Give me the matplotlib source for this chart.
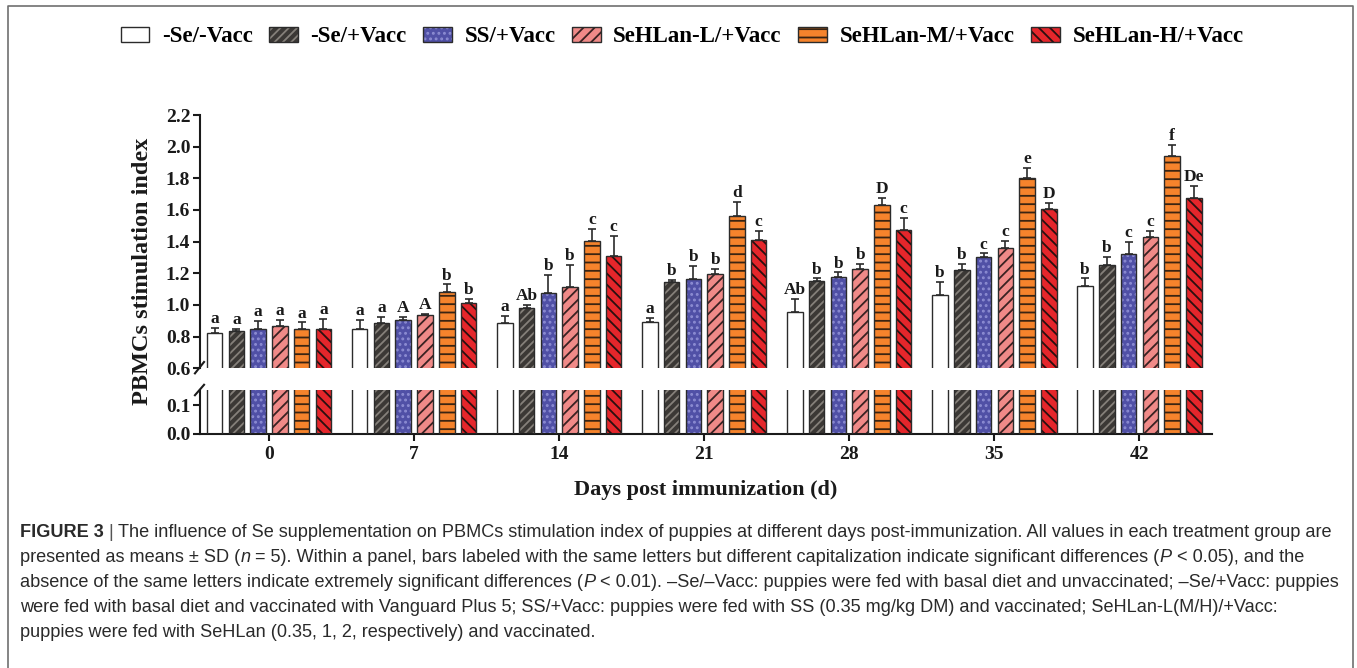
import matplotlib
matplotlib.use('Agg')
import matplotlib.pyplot as plt
import matplotlib.transforms as mtransforms
from matplotlib.patches import Patch
from matplotlib.lines import Line2D
from matplotlib.legend_handler import HandlerTuple
import numpy as np

# ---------------- data ----------------
days = ['0', '7', '14', '21', '28', '35', '42']
groups = ['-Se/-Vacc', '-Se/+Vacc', 'SS/+Vacc', 'SeHLan-L/+Vacc', 'SeHLan-M/+Vacc', 'SeHLan-H/+Vacc']

mean_neg_neg = [0.825, 0.846, 0.884, 0.893, 0.958, 1.063, 1.122]
sd_neg_neg = [0.028, 0.059, 0.046, 0.023, 0.078, 0.080, 0.046]
mean_neg_pos = [0.838, 0.884, 0.979, 1.147, 1.153, 1.221, 1.253]
sd_neg_pos = [0.012, 0.042, 0.020, 0.010, 0.015, 0.036, 0.053]
mean_ss = [0.848, 0.905, 1.074, 1.162, 1.179, 1.305, 1.324]
sd_ss = [0.051, 0.021, 0.116, 0.084, 0.027, 0.021, 0.072]
mean_low = [0.869, 0.935, 1.112, 1.198, 1.227, 1.362, 1.432]
sd_low = [0.036, 0.006, 0.140, 0.030, 0.032, 0.044, 0.036]
mean_mid = [0.846, 1.080, 1.404, 1.564, 1.632, 1.800, 1.943]
sd_mid = [0.044, 0.050, 0.074, 0.086, 0.042, 0.065, 0.067]
mean_high = [0.846, 1.010, 1.310, 1.410, 1.472, 1.606, 1.678]
sd_high = [0.065, 0.030, 0.126, 0.059, 0.076, 0.036, 0.072]

letters_neg_neg = ['a', 'a', 'a', 'a', 'Ab', 'b', 'b']
letters_neg_pos = ['a', 'a', 'Ab', 'b', 'b', 'b', 'b']
letters_ss = ['a', 'A', 'b', 'b', 'b', 'c', 'c']
letters_low = ['a', 'A', 'b', 'b', 'b', 'c', 'c']
letters_mid = ['a', 'b', 'c', 'd', 'D', 'e', 'f']
letters_high = ['a', 'b', 'c', 'c', 'c', 'D', 'De']

y_ticks_upper = [0.6, 0.8, 1.0, 1.2, 1.4, 1.6, 1.8, 2.0, 2.2]
y_ticks_lower = [0.0, 0.1]

means = [mean_neg_neg, mean_neg_pos, mean_ss, mean_low, mean_mid, mean_high]
sds = [sd_neg_neg, sd_neg_pos, sd_ss, sd_low, sd_mid, sd_high]
letters = [letters_neg_neg, letters_neg_pos, letters_ss, letters_low, letters_mid, letters_high]

# ---------------- styles ----------------
faces = ['white', '#3b3835', '#5050a6', '#f08a88', '#f5832c', '#e5262b']
hatches = [None, '////', '...', '///', '--', '\\\\\\']
hatch_cols = ['white', '#85807a', '#8c8cd2', '#3a2222', '#3a2412', '#2a1010']
edge_dark = '#2b2b2b'

plt.rcParams['font.family'] = ['Liberation Serif', 'DejaVu Serif']
plt.rcParams['font.weight'] = 'bold'
plt.rcParams['hatch.linewidth'] = 1.3

W, H = 1357, 668
fig = plt.figure(figsize=(W / 100, H / 100), dpi=100)
fig.patch.set_facecolor('white')

def fx(px):
    return px / W

def fy(py):
    return 1 - py / H

ax_left, ax_right = 200, 1212
ax_up = fig.add_axes([fx(ax_left), fy(368.3), fx(ax_right - ax_left), (368.3 - 115) / H])
ax_lo = fig.add_axes([fx(ax_left), fy(433.5), fx(ax_right - ax_left), (433.5 - 390) / H])

n_days = len(days)
xc = np.arange(n_days)
step = 0.15
bw = 0.107

for ax in (ax_up, ax_lo):
    for j in range(6):
        x = xc + (j - 2.5) * step
        ax.bar(x, means[j], bw, color=faces[j], hatch=hatches[j],
               edgecolor=hatch_cols[j], linewidth=0, zorder=2)
        ax.bar(x, means[j], bw, fill=False, edgecolor=edge_dark, linewidth=1.0, zorder=3)
    ax.set_xlim(-0.476, 6.5)
    ax.set_facecolor('none')

for j in range(6):
    x = xc + (j - 2.5) * step
    ax_up.errorbar(x, means[j], yerr=[np.zeros(n_days), sds[j]], fmt='none',
                   ecolor='#2b2b2b', elinewidth=1.2, capsize=2.6, capthick=1.2, zorder=4)
    for i in range(n_days):
        ax_up.annotate(letters[j][i], (x[i], means[j][i] + sds[j][i]),
                       xytext=(0, 3.5), textcoords='offset points', ha='center',
                       va='baseline', fontsize=12.5, fontweight='bold', color='#1a1a1a')

ax_up.set_ylim(0.6, 2.2)
ax_lo.set_ylim(0.0, 0.153)
ax_up.set_yticks(y_ticks_upper)
ax_up.set_yticklabels([f'{v:.1f}' for v in y_ticks_upper])
ax_lo.set_yticks(y_ticks_lower)
ax_lo.set_yticklabels([f'{v:.1f}' for v in y_ticks_lower])
ax_lo.set_xticks(xc)
ax_lo.set_xticklabels(days)
ax_up.set_xticks([])

for s in ['top', 'right', 'bottom']:
    ax_up.spines[s].set_visible(False)
for s in ['top', 'right']:
    ax_lo.spines[s].set_visible(False)
for ax in (ax_up, ax_lo):
    for s in ['left', 'bottom']:
        ax.spines[s].set_linewidth(1.5)
        ax.spines[s].set_color('#1a1a1a')
    ax.tick_params(axis='y', direction='out', length=5, width=1.5, labelsize=14, pad=2,
                   color='#1a1a1a', labelcolor='#1a1a1a')
ax_lo.tick_params(axis='x', direction='out', length=5, width=1.5, labelsize=14, pad=4,
                  color='#1a1a1a', labelcolor='#1a1a1a')

# break marks
ax_up.plot([-0.005, 0.004], [-0.02, 0.025], transform=ax_up.transAxes, color='#1a1a1a',
           lw=1.5, clip_on=False)
ax_lo.plot([-0.005, 0.004], [0.88, 1.12], transform=ax_lo.transAxes, color='#1a1a1a',
           lw=1.5, clip_on=False)

fig.text(fx(143), fy(271.5), 'PBMCs stimulation index', rotation=90, ha='center',
         va='center', fontsize=17.5, fontweight='bold', color='#1a1a1a')
fig.text(fx(706), fy(490), 'Days post immunization (d)', ha='center', va='center',
         fontsize=16, fontweight='bold', color='#1a1a1a')

# legend
handles = []
for j in range(6):
    h1 = Patch(facecolor=faces[j], hatch=hatches[j], edgecolor=hatch_cols[j], linewidth=0)
    h2 = Patch(fill=False, edgecolor=edge_dark, linewidth=1.0)
    handles.append((h1, h2))
fig.legend(handles, groups, loc='center', bbox_to_anchor=(fx(682), fy(37)), ncol=6,
           frameon=False, prop=dict(family='Liberation Serif', weight='bold', size=16.5),
           handlelength=1.25, handleheight=0.62, handletextpad=0.55, columnspacing=0.72,
           handler_map={tuple: HandlerTuple(ndivide=1)})

# frame
fig.add_artist(Line2D([fx(8), fx(8), fx(1353), fx(1353)], [0, fy(6), fy(6), 0],
                      transform=fig.transFigure, color='#707070', lw=1.2))

# caption
caption_lines = [
    [("FIGURE 3", 'bold', 'normal'), (" | ", 'normal', 'normal'),
     ("The influence of Se supplementation on PBMCs stimulation index of puppies at different days post-immunization. All values in each treatment group are", 'normal', 'normal')],
    [("presented as means \u00b1 SD (", 'normal', 'normal'), ("n", 'normal', 'italic'),
     (" = 5). Within a panel, bars labeled with the same letters but different capitalization indicate significant differences (", 'normal', 'normal'),
     ("P", 'normal', 'italic'), (" < 0.05), and the", 'normal', 'normal')],
    [("absence of the same letters indicate extremely significant differences (", 'normal', 'normal'),
     ("P", 'normal', 'italic'),
     (" < 0.01). \u2013Se/\u2013Vacc: puppies were fed with basal diet and unvaccinated; \u2013Se/+Vacc: puppies", 'normal', 'normal')],
    [("were fed with basal diet and vaccinated with Vanguard Plus 5; SS/+Vacc: puppies were fed with SS (0.35 mg/kg DM) and vaccinated; SeHLan-L(M/H)/+Vacc:", 'normal', 'normal')],
    [("puppies were fed with SeHLan (0.35, 1, 2, respectively) and vaccinated.", 'normal', 'normal')],
]

renderer = fig.canvas.get_renderer()
ident = mtransforms.IdentityTransform()
cap_family = ['Liberation Sans', 'DejaVu Sans']

def text_w(s, weight, style, fs):
    t = fig.text(0, 0, s, fontsize=fs, fontweight=weight, fontstyle=style,
                 family=cap_family, transform=ident)
    w = t.get_window_extent(renderer).width
    t.remove()
    return w

def adv(s, weight, style, fs):
    return text_w('x' + s + 'x', weight, style, fs) - text_w('xx', weight, style, fs)

def line_adv(segs, fs):
    return sum(adv(s, w, st, fs) for s, w, st in segs)

fs0 = 12.0
target = 1333 - 20
fs = fs0 * target / line_adv(caption_lines[0], fs0)

baselines = [537, 562, 587, 612, 637]
for segs, yb in zip(caption_lines, baselines):
    x = 20.0
    for s, w, st in segs:
        lead = len(s) - len(s.lstrip(' '))
        core = s.strip(' ')
        xo = x + (adv(' ' * lead, w, st, fs) if lead else 0)
        if core:
            col = '#2a2a2a' if core != '|' else '#555555'
            fig.text(xo, H - yb, core, fontsize=fs, fontweight=w, fontstyle=st,
                     family=cap_family, transform=ident, ha='left', va='baseline', color=col)
        x += adv(s, w, st, fs)

fig.savefig('out.png', dpi=100, facecolor='white')
